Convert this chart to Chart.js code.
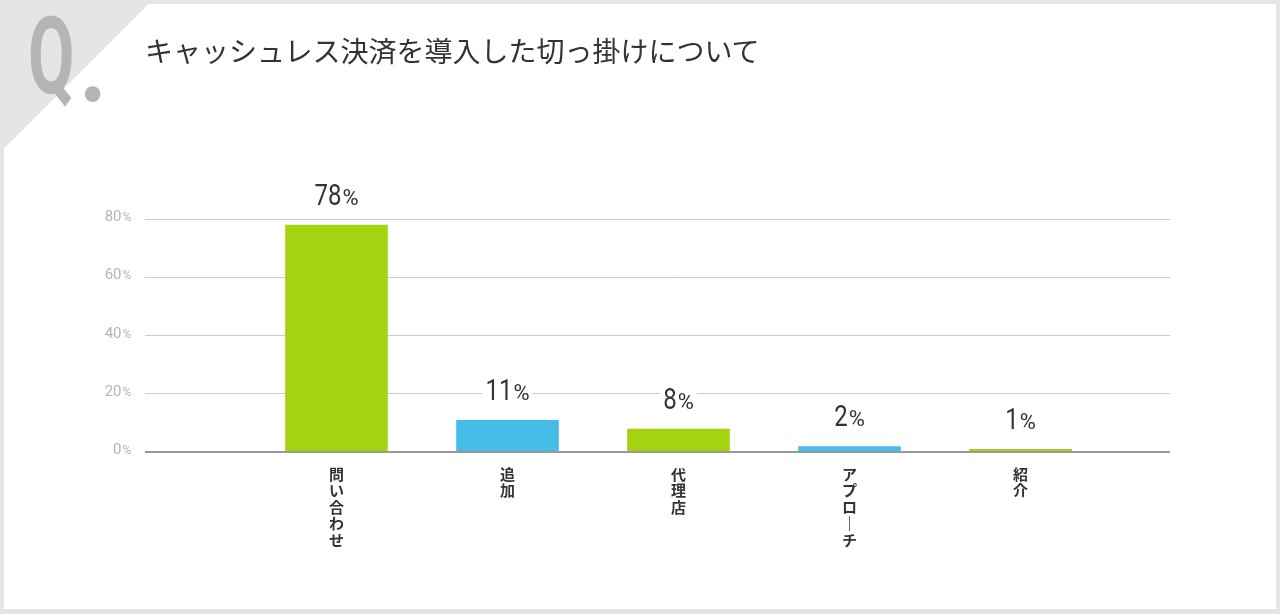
<!DOCTYPE html>
<html lang="ja">
<head>
<meta charset="utf-8">
<script src="https://cdn.jsdelivr.net/npm/chart.js@4.4.1/dist/chart.umd.min.js"></script>
<style>
  html, body { margin: 0; padding: 0; }
  body { width: 1280px; height: 614px; background: #e5e5e5; position: relative; overflow: hidden; }
  .card {
    position: absolute; left: 4px; top: 4px; width: 1272px; height: 605px;
    background: linear-gradient(135deg, #e5e5e5 0, #e5e5e5 102px, #fff 102px);
  }
  .q {
    position: absolute; top: 3px; color: #b5b5b5;
    font: bold 107px/1 Roboto, sans-serif; transform-origin: left top;
    z-index: 2; white-space: nowrap;
  }
  .title {
    position: absolute; left: 145px; top: 36px; z-index: 2;
    font: 28px/1 "Noto Sans CJK JP", sans-serif; color: #333; white-space: nowrap;
  }
  #chart { position: absolute; left: 0; top: 0; z-index: 1; }
</style>
</head>
<body>
<div class="card"></div>
<div class="q" style="left:28px; transform:scaleX(0.63)">Q</div>
<div class="q" style="left:79px; top:11px; transform:scaleX(0.9)">.</div>
<div class="title">キャッシュレス決済を導入した切っ掛けについて</div>
<canvas id="chart" width="1280" height="614"></canvas>

<script>
// data
const categories = ['問い合わせ', '追加', '代理店', 'アプローチ', '紹介'];
const values = [78, 11, 8, 2, 1];
const barColors = ['#a5d30f', '#45bde6', '#a5d30f', '#45bde6', '#a5d30f'];
const yTickLabels = ['0', '20', '40', '60', '80'];
const yMax = 80;
const yStep = 20;

const gridColor = (c) => (c.tick && c.tick.value === 0 ? '#999' : '#ccc');
const gridWidth = (c) => (c.tick && c.tick.value === 0 ? 2 : 1);

// y labels: number + small % sign
const yTickText = {
  id: 'yTickText',
  afterDraw(chart) {
    const s = chart.scales.y;
    const ctx = chart.ctx;
    const xr = s.right - s.options.grid.tickLength - 23.5;
    ctx.save();
    ctx.fillStyle = '#b4b4b4';
    ctx.textBaseline = 'alphabetic';
    s.ticks.forEach((t, i) => {
      const y = Math.round(s.getPixelForValue(t.value)) + 1.5;
      ctx.font = '15px Roboto';
      ctx.textAlign = 'right';
      ctx.fillText(yTickLabels[i], xr, y);
      ctx.font = '12px Roboto';
      ctx.textAlign = 'left';
      ctx.fillText('%', xr + 1, y);
    });
    ctx.restore();
  }
};

// value labels above the bars
const valueText = {
  id: 'valueText',
  afterDatasetsDraw(chart) {
    const ctx = chart.ctx;
    const meta = chart.getDatasetMeta(0);
    ctx.save();
    ctx.textBaseline = 'alphabetic';
    ctx.textAlign = 'left';
    meta.data.forEach((bar, i) => {
      const num = String(values[i]);
      ctx.font = '30px Roboto';
      const wn = ctx.measureText(num).width * 0.8;
      ctx.font = '22px Roboto';
      const wp = ctx.measureText('%').width;
      const x0 = bar.x - (wn + wp + 1) / 2;
      const y = bar.y - 20;
      ctx.fillStyle = '#fff';
      ctx.fillRect(x0 - 3, y - 24, wn + wp + 7, 28);
      ctx.fillStyle = '#333';
      ctx.save();
      ctx.translate(x0, y);
      ctx.scale(0.8, 1);
      ctx.font = '30px Roboto';
      ctx.fillText(num, 0, 0);
      ctx.restore();
      ctx.font = '22px Roboto';
      ctx.fillText('%', x0 + wn + 1, y);
    });
    ctx.restore();
  }
};

new Chart(document.getElementById('chart').getContext('2d'), {
  type: 'bar',
  data: {
    labels: categories,
    datasets: [{
      data: values,
      backgroundColor: barColors,
      borderWidth: 0,
      barPercentage: 0.6,
      categoryPercentage: 1
    }]
  },
  options: {
    responsive: false,
    animation: false,
    layout: { padding: { left: 0, right: 110, top: 219, bottom: 62 } },
    plugins: { legend: { display: false }, tooltip: { enabled: false } },
    scales: {
      x: {
        grid: { display: false, drawTicks: false },
        border: { display: false },
        ticks: {
          color: '#333',
          padding: 14,
          maxRotation: 0,
          autoSkip: false,
          font: { family: '"Noto Sans CJK JP", sans-serif', size: 15, weight: 'bold', lineHeight: 1.1 },
          // stack characters vertically, long vowel mark turned upright
          callback: (v, i) => Array.from(categories[i]).map((ch) => (ch === 'ー' ? '｜' : ch))
        },
        afterFit: (s) => { s.height = 100; }
      },
      y: {
        min: 0,
        max: yMax,
        ticks: { stepSize: yStep, display: false },
        border: { display: false },
        grid: { color: gridColor, lineWidth: gridWidth, tickLength: 106 },
        afterFit: (s) => { s.width = 251; }
      },
      y2: {
        position: 'right',
        min: 0,
        max: yMax,
        ticks: { stepSize: yStep, display: false },
        border: { display: false },
        grid: { drawOnChartArea: false, color: gridColor, lineWidth: gridWidth, tickLength: 64 },
        afterFit: (s) => { s.width = 64; }
      }
    }
  },
  plugins: [yTickText, valueText]
});
</script>
</body>
</html>
